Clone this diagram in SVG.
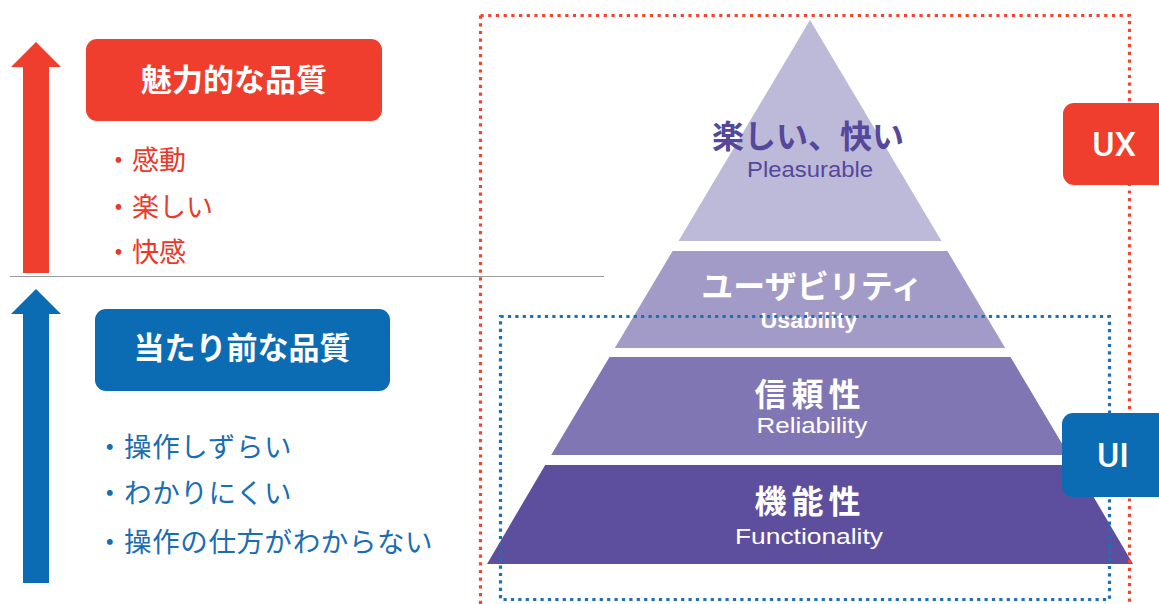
<svg xmlns="http://www.w3.org/2000/svg" width="1159" height="604" viewBox="0 0 1159 604">
<style>
.jp{font-family:"Noto Sans CJK JP","Noto Sans",sans-serif;}
.en{font-family:"Liberation Sans","Noto Sans",sans-serif;}
.ttl{font-size:31px;font-weight:bold;fill:#fff;text-anchor:middle;}
.red{fill:#ef3e2d;}
.blue{fill:#0b6cb4;}
.rtxt{font-size:27px;fill:#e8392b;}
.btxt{font-size:27.5px;fill:#1a6db3;letter-spacing:0.6px;}
.pjp{font-size:32px;font-weight:bold;text-anchor:middle;}
.pen{font-size:22px;text-anchor:middle;}
.w{fill:#fff;}
.pur{fill:#55489b;}
.badge{font-family:Roboto,"Liberation Sans",sans-serif;font-size:34px;font-weight:500;fill:#fff;text-anchor:middle;}
.dot{fill:none;stroke-width:3.2;}
</style>
<rect width="1159" height="604" fill="#fff"/>

<g id="connectors">
  <line x1="10" y1="276.5" x2="604" y2="276.5" stroke="#9a9a9a" stroke-width="1.2"/>
  <polygon class="red" points="36,42 61,67 49,67 49,273 23,273 23,67 11,67"/>
  <polygon class="blue" points="36,289 61,314 49,314 49,583 23,583 23,314 11,314"/>
</g>

<g id="attractive-quality">
  <rect class="red" x="86" y="39" width="296" height="82" rx="11"/>
  <text class="jp ttl" x="234" y="91">魅力的な品質</text>
  <text class="jp rtxt" x="105" y="170">・感動</text>
  <text class="jp rtxt" x="105" y="217">・楽しい</text>
  <text class="jp rtxt" x="105" y="262">・快感</text>
</g>

<g id="basic-quality">
  <rect class="blue" x="95" y="309" width="295" height="82" rx="11"/>
  <text class="jp ttl" x="242" y="359">当たり前な品質</text>
  <text class="jp btxt" x="96" y="457">・操作しずらい</text>
  <text class="jp btxt" x="96" y="503">・わかりにくい</text>
  <text class="jp btxt" x="96" y="552">・操作の仕方がわからない</text>
</g>

<g id="pyramid">
  <g id="level-pleasurable">
    <polygon fill="#bdb9d9" points="810,20 941.5,241 678.5,241"/>
    <text class="jp pjp pur" x="808" y="148" font-size="31">楽しい、快い</text>
    <text class="en pen pur" x="810" y="177" textLength="126" lengthAdjust="spacingAndGlyphs">Pleasurable</text>
  </g>
  <g id="level-usability">
    <polygon fill="#a29bc8" points="672.6,251 947.4,251 1005.2,348 614.8,348"/>
    <text class="jp pjp w" x="812" y="298" font-size="31">ユーザビリティ</text>
    <text class="en pen w" x="809" y="328" font-weight="bold" textLength="97" lengthAdjust="spacingAndGlyphs">Usability</text>
  </g>
  <g id="level-reliability">
    <polygon fill="#8176b4" points="609.5,357 1010.5,357 1068.8,455 551.2,455"/>
    <text class="jp pjp w" x="810" y="406" font-size="34" letter-spacing="5">信頼性</text>
    <text class="en pen w" x="812" y="433" textLength="111" lengthAdjust="spacingAndGlyphs">Reliability</text>
  </g>
  <g id="level-functionality">
    <polygon fill="#5d4f9e" points="545.2,465 1074.8,465 1133,564 487,564"/>
    <text class="jp pjp w" x="810" y="513" font-size="34" letter-spacing="5">機能性</text>
    <text class="en pen w" x="809" y="544" textLength="148" lengthAdjust="spacingAndGlyphs">Functionality</text>
  </g>
</g>

<g id="ux-region">
  <rect class="dot" x="480.5" y="15.5" width="649" height="600" stroke="#f2452f" stroke-dasharray="3.2 4.5"/>
</g>
<g id="ui-region">
  <rect class="dot" x="500.5" y="316.5" width="609" height="283" stroke="#1e6fb3" stroke-dasharray="3.2 4.2"/>
</g>

<g id="ux-badge">
  <rect class="red" x="1063" y="103" width="110" height="82" rx="11"/>
  <text class="badge" x="1114" y="156">UX</text>
</g>
<g id="ui-badge">
  <rect class="blue" x="1062" y="413" width="110" height="84" rx="11"/>
  <text class="badge" x="1113" y="467">UI</text>
</g>
</svg>
